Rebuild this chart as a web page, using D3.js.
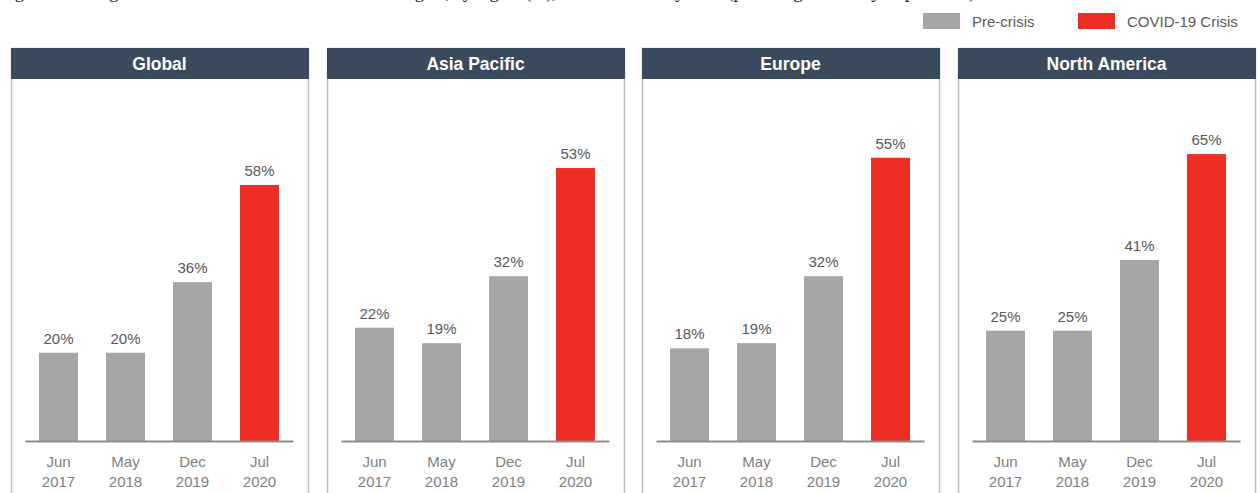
<!DOCTYPE html>
<html><head><meta charset="utf-8">
<script src="https://cdn.jsdelivr.net/npm/d3@7"></script>
<style>body{margin:0;background:#fff}svg{display:block}</style>
</head><body>
<script>
const regions = ["Global", "Asia Pacific", "Europe", "North America"];
const periods = ["Jun 2017", "May 2018", "Dec 2019", "Jul 2020"];
const phases = ["Pre-crisis", "Pre-crisis", "Pre-crisis", "COVID-19 Crisis"];
const globalVals = [20, 20, 36, 58];
const asiaVals = [22, 19, 32, 53];
const europeVals = [18, 19, 32, 55];
const naVals = [25, 25, 41, 65];
const axisMax = [70, 60, 60, 70];
const legendItems = ["Pre-crisis", "COVID-19 Crisis"];
const titleText = "Figure 3: Average share of customer interactions that are digital, by region (%), June 2017 to July 2020 (percentage of survey respondents)";

const seriesByRegion = [globalVals, asiaVals, europeVals, naVals];
const W = 1260, H = 493;
const color = d3.scaleOrdinal().domain(legendItems).range(["#a6a6a6", "#ee2e24"]);

const svg = d3.select("body").append("svg").attr("width", W).attr("height", H);

// title line, cut off at the top edge as in the source image
svg.append("text").attr("x", 0).attr("y", -2.5)
  .attr("font-family", "Liberation Serif, serif").attr("font-size", 19).attr("fill", "#222")
  .attr("textLength", 975).attr("lengthAdjust", "spacing")
  .text(titleText);

// legend
const legend = svg.append("g");
const legX = [923, 1078];
legendItems.forEach((k, i) => {
  legend.append("rect").attr("x", legX[i]).attr("y", 13).attr("width", 37).attr("height", 16).attr("fill", color(k));
  legend.append("text").attr("x", legX[i] + 49).attr("y", 27)
    .attr("font-family", "Liberation Sans, Arial, sans-serif").attr("font-size", 15).attr("fill", "#595959").text(k);
});

const panelX = d3.scaleBand().domain(regions).range([11, 1273]).paddingInner(0);
const panelW = 297, panelTop = 48, headH = 31, baseY = 441, plotTop = 132;

regions.forEach((r, ri) => {
  const x0 = Math.round(panelX(r));
  const g = svg.append("g");
  g.append("rect").attr("x", x0 + 0.5).attr("y", panelTop + 0.5).attr("width", panelW).attr("height", H)
    .attr("fill", "#fff").attr("stroke", "#b7bec8").attr("stroke-width", 1.5);
  g.append("rect").attr("x", x0).attr("y", panelTop).attr("width", panelW + 1).attr("height", headH).attr("fill", "#3a4a5c");
  g.append("text").attr("x", x0 + panelW / 2).attr("y", panelTop + 22).attr("text-anchor", "middle")
    .attr("font-family", "Liberation Sans, Arial, sans-serif").attr("font-weight", "bold").attr("font-size", 17.5)
    .attr("fill", "#fff").text(r);

  const x = d3.scaleBand().domain(periods).range([x0 + 14, x0 + 282]).paddingInner(0.418).paddingOuter(0.209);
  const y = d3.scaleLinear().domain([0, axisMax[ri]]).range([baseY, plotTop]);
  const vals = seriesByRegion[ri];

  g.selectAll(".bar").data(periods).join("rect")
    .attr("x", d => x(d)).attr("width", x.bandwidth())
    .attr("y", (d, i) => y(vals[i])).attr("height", (d, i) => baseY - y(vals[i]))
    .attr("fill", (d, i) => color(phases[i]));

  g.selectAll(".val").data(periods).join("text")
    .attr("x", d => x(d) + x.bandwidth() / 2).attr("y", (d, i) => y(vals[i]) - 9)
    .attr("text-anchor", "middle").attr("font-family", "Liberation Sans, Arial, sans-serif")
    .attr("font-size", 15).attr("fill", "#595959").text((d, i) => vals[i] + "%");

  const axis = d3.axisBottom(x).tickSize(0).tickSizeOuter(0).tickPadding(0);
  const ag = g.append("g").attr("transform", `translate(0,${baseY})`).call(axis);
  ag.select(".domain").attr("stroke", "#8c8c8c").attr("stroke-width", 2);
  ag.selectAll(".tick text").each(function(d) {
    const t = d3.select(this).text(null).attr("font-family", "Liberation Sans, Arial, sans-serif")
      .attr("font-size", 15).attr("fill", "#7f7f7f").attr("y", 0).attr("dy", null);
    const parts = d.split(" ");
    t.append("tspan").attr("x", 0).attr("y", 26).text(parts[0]);
    t.append("tspan").attr("x", 0).attr("y", 46).text(parts[1]);
  });
});
</script>
</body></html>
